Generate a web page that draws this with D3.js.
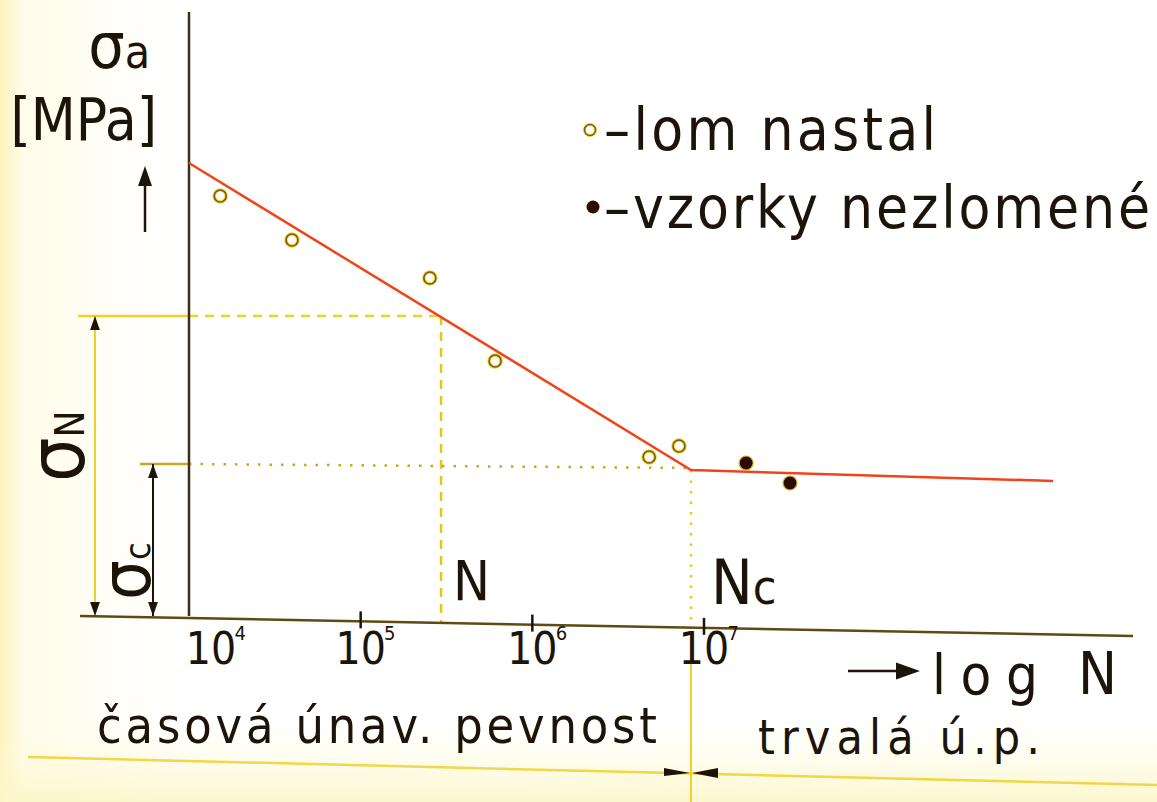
<!DOCTYPE html>
<html>
<head>
<meta charset="utf-8">
<script src="https://cdn.jsdelivr.net/npm/d3@7"></script>
<style>
  body { margin: 0; background: #fff; }
  svg text { font-family: "DejaVu Sans Condensed", "DejaVu Sans", sans-serif; fill: #1c1408; }
</style>
</head>
<body>
<svg width="1157" height="802"></svg>
<script>
// data (stress in MPa, arbitrary scale)
var curveN = [1e4, 8.4e6, 1.08e9];
var curveS = [453, 146, 135];
var brokenN = [1.52e4, 3.98e4, 2.53e5, 6.07e5, 4.79e6, 7.15e6];
var brokenS = [420, 376, 338, 255, 159, 170];
var runoutN = [1.76e7, 3.17e7];
var runoutS = [153, 133];
var tickExp = [4, 5, 6, 7];
var markN = 2.94e5, markSN = 300;   // N, sigma_N
var markNc = 8.4e6, markSc = 152;   // Nc, sigma_c

var svg = d3.select("svg"),
    width = +svg.attr("width"),
    height = +svg.attr("height");

// pale yellow tint of the photo at the edges
var defs = svg.append("defs");
var lg = defs.append("linearGradient").attr("id", "edgeL");
lg.append("stop").attr("offset", "0").attr("stop-color", "#fbf3b8");
lg.append("stop").attr("offset", "0.02").attr("stop-color", "#fffcea");
lg.append("stop").attr("offset", "0.15").attr("stop-color", "#ffffff");
lg.append("stop").attr("offset", "1").attr("stop-color", "#ffffff");
var bg = defs.append("linearGradient").attr("id", "edgeB").attr("x1", 0).attr("x2", 0).attr("y1", 0).attr("y2", 1);
bg.append("stop").attr("offset", "0").attr("stop-color", "#fffbe0").attr("stop-opacity", 0);
bg.append("stop").attr("offset", "0.9").attr("stop-color", "#fffbe0").attr("stop-opacity", 0);
bg.append("stop").attr("offset", "1").attr("stop-color", "#fcf6c8").attr("stop-opacity", 0.9);
svg.append("rect").attr("width", width).attr("height", height).attr("fill", "url(#edgeL)");
svg.append("rect").attr("width", width).attr("height", height).attr("fill", "url(#edgeB)");

var x0 = 189, yBase = 616;
var x = d3.scaleLog().domain([1e4, 1e7]).range([x0, 704]);
var y = d3.scaleLinear().domain([0, 600]).range([yBase, 16]);

// hand-drawn x axis is slightly slanted
var axL = 80, axR = 1133, axDrop = 20;
function axisY(px) { return yBase + (px - axL) * axDrop / (axR - axL); }

var ink = "#1c1408", yel = "#eed22a", red = "#f2441a";

function arrowHead(g, px, py, dir, size, col) {
  var s = size || 12, w = s * 0.35, p;
  if (dir == "up") p = [[px, py], [px - w, py + s], [px + w, py + s]];
  else if (dir == "down") p = [[px, py], [px - w, py - s], [px + w, py - s]];
  else if (dir == "right") p = [[px, py], [px - s, py - w], [px - s, py + w]];
  else p = [[px, py], [px + s, py - w], [px + s, py + w]];
  g.append("path").attr("d", "M" + p.join("L") + "Z").attr("fill", col || ink);
}

var g = svg.append("g");

// bottom separator line and Nc boundary
g.append("line").attr("x1", 28).attr("y1", 757).attr("x2", 1157).attr("y2", 785)
  .attr("stroke", yel).attr("stroke-width", 2.5).attr("opacity", 0.85);
g.append("line").attr("x1", x(markNc)).attr("x2", x(markNc)).attr("y1", axisY(x(markNc)) + 4).attr("y2", 802)
  .attr("stroke", yel).attr("stroke-width", 2);
g.append("path").attr("d", "M664,768L690,773L664,776Z").attr("fill", ink);
g.append("path").attr("d", "M718,768L692,773L718,778Z").attr("fill", ink);

// sigma_N dimension
g.append("line").attr("x1", 78).attr("x2", x0).attr("y1", y(markSN)).attr("y2", y(markSN))
  .attr("stroke", yel).attr("stroke-width", 2.5);
g.append("line").attr("x1", x0).attr("x2", x(markN)).attr("y1", y(markSN)).attr("y2", y(markSN))
  .attr("stroke", yel).attr("stroke-width", 2.5).attr("stroke-dasharray", "9 7");
g.append("line").attr("x1", x(markN)).attr("x2", x(markN)).attr("y1", y(markSN)).attr("y2", axisY(x(markN)))
  .attr("stroke", "#e2c61c").attr("stroke-width", 2.5).attr("stroke-dasharray", "9 7");
g.append("line").attr("x1", 95).attr("x2", 95).attr("y1", y(markSN)).attr("y2", yBase)
  .attr("stroke", yel).attr("stroke-width", 2);
arrowHead(g, 95, y(markSN), "up", 14);
arrowHead(g, 95, yBase, "down", 14);

// sigma_c dimension
g.append("line").attr("x1", 140).attr("x2", x0).attr("y1", y(markSc)).attr("y2", y(markSc))
  .attr("stroke", "#c9a820").attr("stroke-width", 2.5);
g.append("line").attr("x1", x0).attr("x2", x(markNc)).attr("y1", y(markSc)).attr("y2", y(markSc) + 4)
  .attr("stroke", "#c8a818").attr("stroke-width", 2.5).attr("stroke-dasharray", "2.5 9");
g.append("line").attr("x1", x(markNc)).attr("x2", x(markNc)).attr("y1", y(curveS[1])).attr("y2", axisY(x(markNc)))
  .attr("stroke", "#e6c818").attr("stroke-width", 2.5).attr("stroke-dasharray", "2.5 8");
g.append("line").attr("x1", 153).attr("x2", 153).attr("y1", y(markSc)).attr("y2", yBase)
  .attr("stroke", ink).attr("stroke-width", 2);
arrowHead(g, 153, y(markSc), "up", 14);
arrowHead(g, 153, yBase, "down", 14);

// y axis
g.append("line").attr("x1", x0).attr("x2", x0).attr("y1", 12).attr("y2", yBase)
  .attr("stroke", "#3e2c14").attr("stroke-width", 2.5);

// x axis line
g.append("line").attr("x1", axL).attr("y1", yBase).attr("x2", axR).attr("y2", yBase + axDrop)
  .attr("stroke", "#5e4a12").attr("stroke-width", 2.5);

var xAxis = d3.axisBottom(x)
  .tickValues(tickExp.map(function(e) { return Math.pow(10, e); }))
  .tickFormat("");
var axG = g.append("g").call(xAxis);
axG.select(".domain").remove();
axG.selectAll(".tick").each(function(d, i) {
  var t = d3.select(this), px = x(d);
  var shift = i == 0 ? 22 : 0;
  t.attr("transform", "translate(" + px + "," + axisY(px) + ")");
  t.select("line").attr("y1", -10).attr("y2", 7).attr("stroke", ink).attr("stroke-width", 2.5)
    .attr("opacity", i == 0 ? 0 : 1);
  t.select("text").remove();
  var lab = t.append("text").attr("y", 664 - axisY(px)).attr("x", shift)
    .attr("text-anchor", "middle").attr("font-size", 44).text("10");
  var half = lab.node().getComputedTextLength() / 2;
  t.append("text").attr("x", shift + half + 4).attr("y", 640 - axisY(px))
    .attr("font-size", 20).text(tickExp[i]);
});

// S-N curve
var line = d3.line().x(function(d) { return x(d[0]); }).y(function(d) { return y(d[1]); });
g.append("path").datum(d3.zip(curveN, curveS)).attr("d", line)
  .attr("fill", "none").attr("stroke", red).attr("stroke-width", 2.5);

// points
var pts = g.append("g");
pts.selectAll(".halo").data(d3.zip(brokenN, brokenS)).enter().append("circle")
  .attr("cx", function(d) { return x(d[0]); }).attr("cy", function(d) { return y(d[1]); })
  .attr("r", 6).attr("fill", "none").attr("stroke", "#f2d43a").attr("stroke-width", 3.5);
pts.selectAll(".open").data(d3.zip(brokenN, brokenS)).enter().append("circle")
  .attr("cx", function(d) { return x(d[0]); }).attr("cy", function(d) { return y(d[1]); })
  .attr("r", 6).attr("fill", "none").attr("stroke", "#7a5a14").attr("stroke-width", 1.6);
pts.selectAll(".full").data(d3.zip(runoutN, runoutS)).enter().append("circle")
  .attr("cx", function(d) { return x(d[0]); }).attr("cy", function(d) { return y(d[1]); })
  .attr("r", 7).attr("fill", "#2a0c02").attr("stroke", "#d8b020").attr("stroke-width", 1.2);

// legend
var leg = g.append("g");
leg.append("circle").attr("cx", 590).attr("cy", 130).attr("r", 5.5).attr("fill", "none")
  .attr("stroke", "#f2d43a").attr("stroke-width", 3);
leg.append("circle").attr("cx", 590).attr("cy", 130).attr("r", 5.5).attr("fill", "none")
  .attr("stroke", "#7a5a14").attr("stroke-width", 1.4);
leg.append("text").attr("x", 604).attr("y", 150).attr("font-size", 58)
  .attr("textLength", 332).attr("lengthAdjust", "spacing").text("–lom nastal");
leg.append("circle").attr("cx", 593).attr("cy", 207).attr("r", 6.5).attr("fill", "#2a0c02");
leg.append("text").attr("x", 604).attr("y", 228).attr("font-size", 58)
  .attr("textLength", 546).attr("lengthAdjust", "spacing").text("–vzorky nezlomené");

// y label
var yl = g.append("g");
yl.append("text").attr("x", 150).attr("y", 68).attr("text-anchor", "end").attr("font-size", 46)
  .html('<tspan font-size="64">σ</tspan>a');
yl.append("text").attr("x", 157).attr("y", 140).attr("text-anchor", "end").attr("font-size", 58).text("[MPa]");
yl.append("line").attr("x1", 145).attr("x2", 145).attr("y1", 232).attr("y2", 178)
  .attr("stroke", ink).attr("stroke-width", 2.5);
arrowHead(yl, 145, 166, "up", 20);

// rotated sigma labels
g.append("text").attr("transform", "translate(84,482) rotate(-90)").attr("font-size", 40)
  .html('<tspan font-size="78">σ</tspan>N');
g.append("text").attr("transform", "translate(150,600) rotate(-90)").attr("font-size", 36)
  .html('<tspan font-size="70">σ</tspan>c');

// N, Nc marks
g.append("text").attr("x", x(markN) + 12).attr("y", 600).attr("font-size", 55).text("N");
g.append("text").attr("x", x(markNc) + 20).attr("y", 604).attr("font-size", 62)
  .html('N<tspan font-size="48">c</tspan>');

// log N
g.append("line").attr("x1", 848).attr("x2", 900).attr("y1", 671).attr("y2", 671)
  .attr("stroke", ink).attr("stroke-width", 2.5);
arrowHead(g, 920, 671, "right", 24);
g.append("text").attr("x", 932).attr("y", 694).attr("font-size", 56)
  .attr("textLength", 106).attr("lengthAdjust", "spacing").text("log");
g.append("text").attr("x", 1078).attr("y", 694).attr("font-size", 58).text("N");

// region labels
g.append("text").attr("x", 97).attr("y", 743).attr("font-size", 50)
  .attr("textLength", 560).attr("lengthAdjust", "spacing").text("časová  únav. pevnost");
g.append("text").attr("x", 758).attr("y", 754).attr("font-size", 48)
  .attr("textLength", 282).attr("lengthAdjust", "spacing").text("trvalá  ú.p.");
</script>
</body>
</html>
